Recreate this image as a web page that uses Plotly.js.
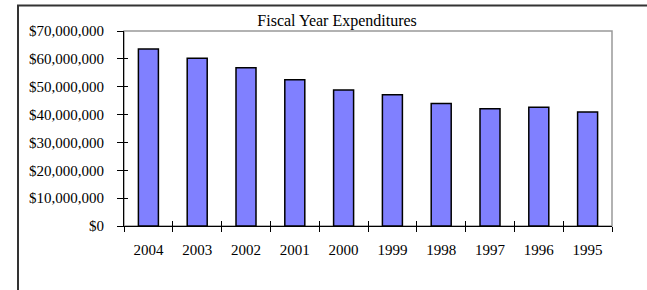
<!DOCTYPE html>
<html>
<head>
<meta charset="utf-8">
<script src="https://cdn.plot.ly/plotly-3.0.1.min.js"></script>
<style>html,body{margin:0;padding:0;background:#fff;}#chart{width:647px;height:290px;}</style>
</head>
<body>
<div id="chart"></div>
<script>
const years = ['2004','2003','2002','2001','2000','1999','1998','1997','1996','1995'];
const expenditures = [63500000, 60200000, 56800000, 52500000, 48800000, 47100000, 44000000, 42100000, 42600000, 40900000];
const chartTitle = 'Fiscal Year Expenditures';
const yTickValues = [0, 10000000, 20000000, 30000000, 40000000, 50000000, 60000000, 70000000];
const yTickLabels = ['$0', '$10,000,000', '$20,000,000', '$30,000,000', '$40,000,000', '$50,000,000', '$60,000,000', '$70,000,000'];

const serif = 'Liberation Serif';

const traces = [
  {
    type: 'bar',
    x: years,
    y: expenditures,
    marker: {color: '#8080FF', line: {color: '#000000', width: 1.5}},
    hoverinfo: 'x+y'
  },
  {
    type: 'scatter',
    mode: 'none',
    x: years,
    y: expenditures,
    xaxis: 'x2',
    yaxis: 'y2',
    hoverinfo: 'skip',
    showlegend: false
  }
];

const layout = {
  width: 647,
  height: 290,
  margin: {l: 124, r: 35, t: 31, b: 64},
  paper_bgcolor: '#ffffff',
  plot_bgcolor: '#ffffff',
  showlegend: false,
  bargap: 0.59,
  font: {family: serif, color: '#000'},
  title: {
    text: chartTitle,
    font: {family: serif, size: 16, color: '#000'},
    xref: 'container', x: 0.521, xanchor: 'center',
    yref: 'container', y: 0.928, yanchor: 'middle'
  },
  xaxis: {
    type: 'category',
    categoryarray: years,
    showline: true, linecolor: '#000', linewidth: 1,
    ticks: 'outside', ticklen: 5, tickcolor: '#000', tickwidth: 1,
    tickson: 'boundaries',
    ticklabelstandoff: 10,
    showgrid: false, zeroline: false,
    tickfont: {family: serif, size: 15, color: '#000'},
    fixedrange: true
  },
  xaxis2: {
    type: 'category',
    categoryarray: years,
    overlaying: 'x',
    matches: 'x',
    side: 'bottom',
    showline: false,
    ticks: 'inside', ticklen: 5, tickcolor: '#000', tickwidth: 1,
    tickson: 'boundaries',
    showticklabels: false, showgrid: false, zeroline: false
  },
  yaxis: {
    range: [0, 70000000],
    tickmode: 'array',
    tickvals: yTickValues,
    ticktext: yTickLabels,
    showline: true, linecolor: '#000', linewidth: 1,
    ticks: 'outside', ticklen: 6, tickcolor: '#000', tickwidth: 1,
    ticklabelstandoff: 10,
    showgrid: false, zeroline: false,
    tickfont: {family: serif, size: 15, color: '#000'},
    fixedrange: true
  },
  yaxis2: {
    range: [0, 70000000],
    tickmode: 'array',
    tickvals: yTickValues,
    overlaying: 'y',
    side: 'left',
    showline: false,
    ticks: 'inside', ticklen: 4, tickcolor: '#000', tickwidth: 1,
    showticklabels: false, showgrid: false, zeroline: false
  },
  shapes: [
    {type: 'rect', xref: 'paper', yref: 'paper', x0: 0, x1: 1, y0: 0, y1: 1,
     line: {color: '#999999', width: 1.5}, layer: 'below'},
    {type: 'rect', xref: 'paper', yref: 'paper', x0: -0.2172, x1: 1.2, y0: -0.5, y1: 1.1308,
     line: {color: '#333333', width: 2}, layer: 'below'}
  ]
};

Plotly.newPlot('chart', traces, layout, {displayModeBar: false, staticPlot: true});
</script>
</body>
</html>
